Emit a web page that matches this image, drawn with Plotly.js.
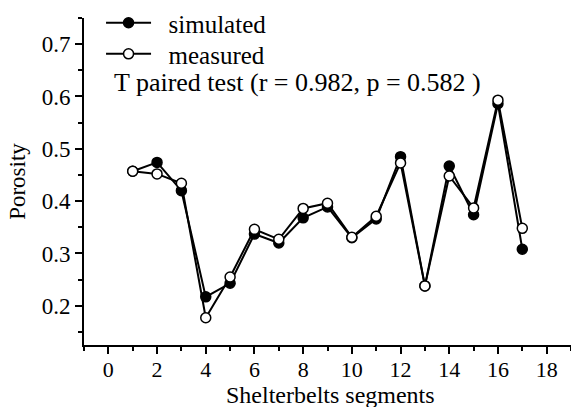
<!DOCTYPE html>
<html>
<head>
<meta charset="utf-8">
<script src="https://cdn.plot.ly/plotly-3.0.1.min.js"></script>
<style>html,body{margin:0;padding:0;background:#fff;}#chart{width:571px;height:407px;}</style>
</head>
<body>
<div id="chart"></div>
<script>
const segments = [1, 2, 3, 4, 5, 6, 7, 8, 9, 10, 11, 12, 13, 14, 15, 16, 17];
const simulated = [0.457, 0.474, 0.420, 0.217, 0.243, 0.337, 0.320, 0.368, 0.389, 0.330, 0.366, 0.485, 0.238, 0.467, 0.374, 0.586, 0.308];
const measured = [0.457, 0.452, 0.434, 0.177, 0.255, 0.346, 0.327, 0.386, 0.396, 0.331, 0.371, 0.473, 0.238, 0.448, 0.387, 0.593, 0.348];
const xTickVals = [0, 2, 4, 6, 8, 10, 12, 14, 16, 18];
const yTickVals = [0.2, 0.3, 0.4, 0.5, 0.6, 0.7];
const seriesNames = ["simulated", "measured"];
const xTitle = "Shelterbelts segments";
const yTitle = "Porosity";
const testText = "T paired test (r = 0.982, p = 0.582 )";

const FONT = "Liberation Serif";

const traces = [
  {
    x: segments, y: simulated, name: "  " + seriesNames[0], type: "scatter", mode: "lines+markers",
    legend: "legend",
    line: {color: "#000", width: 2},
    marker: {symbol: "circle", size: 10, color: "#000", line: {color: "#000", width: 1.5}}
  },
  {
    x: segments, y: measured, name: "  " + seriesNames[1], type: "scatter", mode: "lines+markers",
    legend: "legend2",
    line: {color: "#000", width: 2},
    marker: {symbol: "circle", size: 10, color: "#fff", line: {color: "#000", width: 1.5}}
  }
];

const legendBase = {
  xanchor: "left", yanchor: "top",
  bgcolor: "rgba(0,0,0,0)", borderwidth: 0,
  font: {family: FONT, size: 25, color: "#000"},
  itemwidth: 45
};

const layout = {
  width: 571, height: 407,
  margin: {l: 84, r: 0, t: 16, b: 62, pad: 0},
  paper_bgcolor: "#fff", plot_bgcolor: "#fff",
  font: {family: FONT, color: "#000", size: 22},
  showlegend: true,
  legend: Object.assign({}, legendBase, {x: 0.035, y: 1.055}),
  legend2: Object.assign({}, legendBase, {x: 0.035, y: 0.96}),
  xaxis: {
    range: [-1, 19], showgrid: false, zeroline: false, automargin: false,
    showline: true, linecolor: "#000", linewidth: 2,
    tickmode: "array", tickvals: xTickVals,
    ticks: "outside", ticklen: 7, tickwidth: 2, tickcolor: "#000",
    ticklabelstandoff: -3,
    tickfont: {family: FONT, size: 22, color: "#000"},
    minor: {dtick: 1, tick0: 1, ticks: "outside", ticklen: 4, tickwidth: 2, tickcolor: "#000"}
  },
  yaxis: {
    range: [0.125, 0.75], showgrid: false, zeroline: false, automargin: false,
    showline: true, linecolor: "#000", linewidth: 2,
    tickmode: "array", tickvals: yTickVals, ticktext: yTickVals.map(v => v.toFixed(1)),
    ticks: "outside", ticklen: 7, tickwidth: 2, tickcolor: "#000",
    tickfont: {family: FONT, size: 23, color: "#000"},
    minor: {dtick: 0.05, tick0: 0.15, ticks: "outside", ticklen: 4, tickwidth: 2, tickcolor: "#000"},
    title: {text: yTitle, font: {family: FONT, size: 23, color: "#000"}, standoff: 10}
  },
  annotations: [
    {
      text: testText, xref: "paper", yref: "paper", x: 0.0575, y: 0.804,
      xanchor: "left", yanchor: "middle", showarrow: false,
      font: {family: FONT, size: 26, color: "#000"}
    },
    {
      text: xTitle, xref: "paper", yref: "paper", x: 0.506, y: -0.153,
      xanchor: "center", yanchor: "middle", showarrow: false,
      font: {family: FONT, size: 24, color: "#000"}
    }
  ]
};

Plotly.newPlot("chart", traces, layout, {displayModeBar: false, staticPlot: true});
</script>
</body>
</html>
